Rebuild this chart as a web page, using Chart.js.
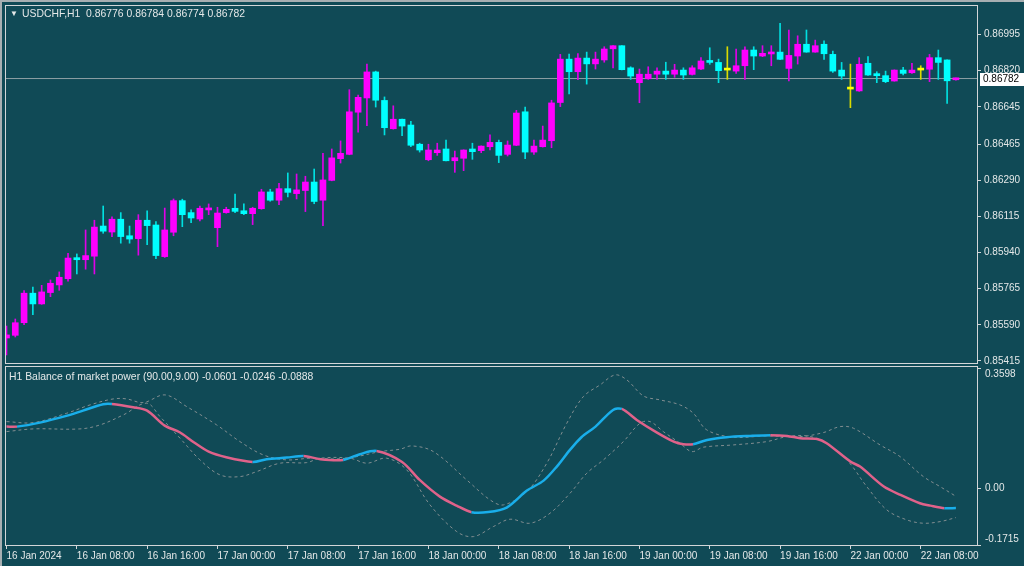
<!DOCTYPE html>
<html lang="en">
<head>
  <meta charset="UTF-8">
  <title>USDCHF,H1</title>
  <script src="https://cdn.jsdelivr.net/npm/chart.js"></script>
  <style>
    html, body {
      margin: 0;
      padding: 0;
      background-color: #104a56;
    }

    body {
      width: 1024px;
      height: 566px;
      position: relative;
      overflow: hidden;
    }

    #precos {
      position: absolute;
      left: 0;
      top: 0;
    }

    #bop {
      position: absolute;
      left: 0;
      top: 364px;
    }
  </style>
</head>
<body>
  <canvas id="precos" width="1024" height="366"></canvas>
  <canvas id="bop" width="1024" height="202"></canvas>

  <script>
    // velas H1, de 16 Jan 00:00 a 22 Jan 12:00
    const abertura = [
      0.85526, 0.85539, 0.85600, 0.85743, 0.85691, 0.85746, 0.85783, 0.85813, 0.85915, 0.85905,
      0.85922, 0.86068, 0.86039, 0.86101, 0.86021, 0.86007, 0.86096, 0.86073, 0.85920, 0.86038,
      0.86191, 0.86133, 0.86102, 0.86146, 0.86060, 0.86133, 0.86154, 0.86142, 0.86128, 0.86152,
      0.86233, 0.86193, 0.86249, 0.86225, 0.86240, 0.86281, 0.86193, 0.86289, 0.86394, 0.86415,
      0.86619, 0.86688, 0.86814, 0.86676, 0.86539, 0.86585, 0.86557, 0.86464, 0.86389, 0.86423,
      0.86441, 0.86384, 0.86396, 0.86441, 0.86433, 0.86452, 0.86473, 0.86415, 0.86459, 0.86621,
      0.86426, 0.86452, 0.86481, 0.86666, 0.86876, 0.86815, 0.86881, 0.86853, 0.86872, 0.86926,
      0.86941, 0.86834, 0.86762, 0.86781, 0.86803, 0.86818, 0.86803, 0.86823, 0.86802, 0.86828,
      0.86867, 0.86860, 0.86823, 0.86818, 0.86844, 0.86920, 0.86891, 0.86901, 0.86910, 0.86831,
      0.86891, 0.86948, 0.86910, 0.86948, 0.86899, 0.86823, 0.86731, 0.86722, 0.86856, 0.86802,
      0.86796, 0.86770, 0.86823, 0.86810, 0.86823, 0.86827, 0.86883, 0.86872, 0.86776
    ];
    const maxima = [
      0.85584, 0.85618, 0.85755, 0.85772, 0.85781, 0.85807, 0.85846, 0.85936, 0.85933, 0.86049,
      0.86096, 0.86165, 0.86113, 0.86133, 0.86068, 0.86123, 0.86142, 0.86089, 0.86155, 0.86199,
      0.86198, 0.86146, 0.86165, 0.86175, 0.86159, 0.86159, 0.86223, 0.86175, 0.86159, 0.86246,
      0.86246, 0.86275, 0.86325, 0.86320, 0.86309, 0.86344, 0.86420, 0.86441, 0.86480, 0.86728,
      0.86702, 0.86852, 0.86818, 0.86693, 0.86650, 0.86586, 0.86575, 0.86469, 0.86464, 0.86469,
      0.86484, 0.86431, 0.86437, 0.86469, 0.86456, 0.86510, 0.86484, 0.86480, 0.86628, 0.86644,
      0.86484, 0.86552, 0.86677, 0.86899, 0.86901, 0.86903, 0.86910, 0.86910, 0.86936, 0.86942,
      0.86942, 0.86839, 0.86828, 0.86839, 0.86834, 0.86861, 0.86851, 0.86834, 0.86844, 0.86883,
      0.86931, 0.86876, 0.86936, 0.86925, 0.86936, 0.86936, 0.86941, 0.86941, 0.87049, 0.87017,
      0.86989, 0.87017, 0.86968, 0.86964, 0.86915, 0.86860, 0.86852, 0.86883, 0.86888, 0.86815,
      0.86818, 0.86824, 0.86836, 0.86856, 0.86844, 0.86899, 0.86920, 0.86873, 0.86784
    ];
    const minima = [
      0.85444, 0.85531, 0.85591, 0.85639, 0.85689, 0.85726, 0.85757, 0.85801, 0.85836, 0.85859,
      0.85836, 0.86033, 0.86017, 0.85985, 0.85985, 0.85927, 0.85978, 0.85910, 0.85916, 0.86021,
      0.86065, 0.86084, 0.86093, 0.86123, 0.85968, 0.86130, 0.86133, 0.86123, 0.86075, 0.86149,
      0.86188, 0.86171, 0.86209, 0.86199, 0.86138, 0.86176, 0.86070, 0.86287, 0.86373, 0.86413,
      0.86522, 0.86554, 0.86644, 0.86509, 0.86537, 0.86505, 0.86452, 0.86426, 0.86384, 0.86410,
      0.86383, 0.86328, 0.86336, 0.86391, 0.86423, 0.86436, 0.86375, 0.86407, 0.86457, 0.86394,
      0.86415, 0.86450, 0.86447, 0.86646, 0.86707, 0.86777, 0.86755, 0.86828, 0.86861, 0.86834,
      0.86824, 0.86778, 0.86665, 0.86778, 0.86778, 0.86778, 0.86788, 0.86778, 0.86799, 0.86825,
      0.86851, 0.86762, 0.86778, 0.86807, 0.86778, 0.86825, 0.86888, 0.86844, 0.86873, 0.86771,
      0.86852, 0.86909, 0.86909, 0.86875, 0.86812, 0.86778, 0.86641, 0.86720, 0.86797, 0.86762,
      0.86762, 0.86769, 0.86799, 0.86807, 0.86778, 0.86767, 0.86778, 0.86662, 0.86774
    ];
    const fechamento = [
      0.85541, 0.85600, 0.85743, 0.85691, 0.85749, 0.85791, 0.85820, 0.85913, 0.85905, 0.85925,
      0.86063, 0.86043, 0.86101, 0.86017, 0.86005, 0.86096, 0.86070, 0.85925, 0.86049, 0.86191,
      0.86123, 0.86107, 0.86154, 0.86155, 0.86131, 0.86149, 0.86139, 0.86128, 0.86154, 0.86233,
      0.86193, 0.86249, 0.86231, 0.86243, 0.86281, 0.86187, 0.86291, 0.86398, 0.86420, 0.86621,
      0.86691, 0.86814, 0.86677, 0.86544, 0.86585, 0.86552, 0.86459, 0.86436, 0.86436, 0.86436,
      0.86384, 0.86399, 0.86436, 0.86428, 0.86455, 0.86473, 0.86410, 0.86460, 0.86615, 0.86426,
      0.86455, 0.86484, 0.86664, 0.86876, 0.86815, 0.86881, 0.86853, 0.86876, 0.86925, 0.86941,
      0.86825, 0.86794, 0.86803, 0.86803, 0.86818, 0.86803, 0.86823, 0.86799, 0.86834, 0.86867,
      0.86860, 0.86820, 0.86823, 0.86844, 0.86920, 0.86891, 0.86904, 0.86910, 0.86875, 0.86894,
      0.86948, 0.86910, 0.86941, 0.86902, 0.86818, 0.86794, 0.86731, 0.86851, 0.86799, 0.86796,
      0.86767, 0.86823, 0.86807, 0.86823, 0.86823, 0.86883, 0.86860, 0.86771, 0.86782
    ];

    const ticksPreco = [0.86995, 0.86820, 0.86645, 0.86465, 0.86290, 0.86115, 0.85940, 0.85765, 0.85590, 0.85415];

    const ticksTempo = [0, 8, 16, 24, 32, 40, 48, 56, 64, 72, 80, 88, 96, 104];
    const rotulosTempo = [
      "16 Jan 2024", "16 Jan 08:00", "16 Jan 16:00", "17 Jan 00:00", "17 Jan 08:00",
      "17 Jan 16:00", "18 Jan 00:00", "18 Jan 08:00", "18 Jan 16:00", "19 Jan 00:00",
      "19 Jan 08:00", "19 Jan 16:00", "22 Jan 00:00", "22 Jan 08:00"
    ];

    // Balance of market power: linha principal e bandas (posição em barras)
    const bopBarras = [
      0, 1.2, 3.8, 6.8, 8.7, 11, 12, 14.4, 16, 18, 19.7, 21.3, 23, 25, 28, 29.6, 31.9, 33.8, 35.7,
      38.3, 40.2, 42.1, 45, 47, 49.3, 51.2, 52.9, 54.8, 56.9, 59.2, 61.1, 62.6, 64.1, 65.4, 67, 69,
      70, 71.7, 74, 75.9, 77, 78.1, 79.7, 81.9, 84.6, 86.9, 88.8, 90.3, 92.2, 93.3, 96, 97.1, 99.8,
      101.7, 103.9, 105.1, 106.7, 108
    ];
    const bopValores = [
      0.1857, 0.1857, 0.1978, 0.2180, 0.2340, 0.2533, 0.2540, 0.2442, 0.2340, 0.1887, 0.1688,
      0.1387, 0.1103, 0.0934, 0.0792, 0.0874, 0.0922, 0.0973, 0.0874, 0.0853, 0.1025, 0.1124,
      0.0792, 0.0249, -0.0255, -0.0526, -0.0725, -0.0722, -0.0586, -0.0073, 0.0228, 0.0651,
      0.1154, 0.1537, 0.1857, 0.2361, 0.2391, 0.2059, 0.1676, 0.1405, 0.1326, 0.1326, 0.1456,
      0.1537, 0.1577, 0.1598, 0.1577, 0.1507, 0.1486, 0.1356, 0.0801, 0.0650, 0.0049, -0.0203,
      -0.0454, -0.0527, -0.0605, -0.0601
    ];
    const superiorBarras = [
      0, 3.05, 6.85, 9.5, 12.15, 13.67, 15.56, 18.03, 20.5, 23.91, 26.56, 29.21, 31.88, 34.53,
      37.57, 39.84, 42.49, 44.77, 46.1, 48.56, 52.35, 55.01, 56.53, 59.18, 61.46, 63.74, 65.62,
      67.52, 69.23, 70.57, 72.45, 74.35, 76.62, 78.13, 79.66, 82.69, 86.49, 90.27, 92.92, 94.82,
      96.34, 99.37, 101.65, 104.3, 106.2, 108
    ];
    const superiorValores = [
      0.2008, 0.1978, 0.2261, 0.2512, 0.2693, 0.2693, 0.2581, 0.2814, 0.2461, 0.1908, 0.1405,
      0.1003, 0.0853, 0.0904, 0.0883, 0.0952, 0.1103, 0.1175, 0.1275, 0.1103, 0.0249, -0.0354,
      -0.0505, -0.0104, 0.0753, 0.1960, 0.2762, 0.3115, 0.3417, 0.3266, 0.2783, 0.2663, 0.2512,
      0.2261, 0.1758, 0.1537, 0.1577, 0.1555, 0.1676, 0.1857, 0.1809, 0.1305, 0.0952, 0.0349,
      0.0047, -0.0246
    ];
    const inferiorBarras = [
      0, 3.05, 8.36, 10.64, 13.29, 15.95, 17.46, 19.74, 22.01, 24.29, 26.56, 28.46, 31.11, 34.15,
      35.67, 39.08, 40.98, 43.25, 45.53, 48.18, 51.22, 53.11, 55.38, 57.28, 59.56, 61.83, 64.11,
      66.01, 67.9, 70.17, 72.07, 73.21, 74.72, 76.62, 77.95, 79.27, 82.69, 86.49, 88.76, 91.03,
      92.92, 95.59, 97.86, 100.14, 102.42, 104.3, 106.2, 108
    ];
    const inferiorValores = [
      0.1706, 0.1788, 0.1788, 0.1908, 0.2210, 0.2563, 0.2159, 0.1507, 0.0853, 0.0400, 0.0349,
      0.0500, 0.0753, 0.0771, 0.0904, 0.0904, 0.0753, 0.0904, 0.0551, -0.0505, -0.1311, -0.1462,
      -0.1160, -0.0937, -0.1058, -0.0756, -0.0153, 0.0451, 0.0853, 0.1405, 0.1960, 0.2008,
      0.1706, 0.1356, 0.1103, 0.1236, 0.1305, 0.1405, 0.1555, 0.1577, 0.1405, 0.0853, 0.0047,
      -0.0656, -0.0958, -0.1058, -0.1009, -0.0888
    ];
    const ticksBop = [0.3598, 0, -0.1715];
    const rotulosBop = ["0.3598", "0.00", "-0.1715"];

    const xMin = -0.17, xMax = 110.4;
    const fonte = '"Liberation Sans", Arial, sans-serif';
    const corTexto = '#e4e8e8';
    const corBorda = '#d2d6d8';
    const azul = '#19aeea';
    const rosa = '#e0628a';

    Chart.defaults.font.family = fonte;
    Chart.defaults.font.size = 10;
    Chart.defaults.color = corTexto;

    const barras = abertura.map((_, i) => i);
    const ultimo = fechamento[fechamento.length - 1];

    function corCorpo(i) {
      if (fechamento[i] > abertura[i]) return '#ff00ff';
      if (fechamento[i] < abertura[i]) return '#00ffff';
      return '#ffff00';
    }
    function corPavio(i) {
      if (fechamento[i] > abertura[i]) return '#e000e8';
      if (fechamento[i] < abertura[i]) return '#00e0e0';
      return '#dada00';
    }
    const pares = (xs, ys) => xs.map((x, i) => ({ x, y: ys[i] }));

    // sem folga extra para os rotulos nas pontas do eixo
    function eixoDireito(s) {
      s.width = 47;
      s.paddingTop = 0;
      s.paddingBottom = 0;
    }

    // moldura do painel, titulo e etiqueta do preço atual
    const moldura = {
      id: 'moldura',
      afterDraw(chart, args, opts) {
        const { ctx, chartArea: a } = chart;
        ctx.save();
        ctx.fillStyle = '#a7afb2';
        if (opts.topo) ctx.fillRect(0, 0, chart.width, 2);
        ctx.fillRect(0, 0, 2, chart.height);
        ctx.strokeStyle = corBorda;
        ctx.lineWidth = 1;
        ctx.strokeRect(a.left + 0.5, a.top + 0.5, a.right - a.left, a.bottom - a.top);

        ctx.fillStyle = corTexto;
        ctx.textBaseline = 'middle';
        if (opts.seta) {
          ctx.font = '8px ' + fonte;
          ctx.fillText('\u25BC', opts.tx - 12, opts.ty);
        }
        ctx.font = '10.4px ' + fonte;
        ctx.fillText(opts.titulo, opts.tx, opts.ty);

        // rotulos do eixo do indicador, mantidos dentro do painel como no MT5
        if (opts.rotulos) {
          ctx.font = '10px ' + fonte;
          const s = chart.scales.y;
          opts.rotulos.valores.forEach((v, i) => {
            let y = s.getPixelForValue(v);
            y = Math.min(Math.max(y, a.top + 8), a.bottom - 6);
            ctx.fillText(opts.rotulos.textos[i], a.right + 8, y);
          });
        }

        if (opts.preco !== undefined) {
          const y = chart.scales.y.getPixelForValue(opts.preco);
          ctx.fillStyle = '#ffffff';
          ctx.fillRect(a.right + 3, Math.round(y) - 6, chart.width - a.right - 3, 13);
          ctx.fillStyle = '#000000';
          ctx.font = '10px ' + fonte;
          ctx.fillText(opts.preco.toFixed(5), a.right + 6, y + 0.5);
        }
        ctx.restore();
      }
    };

    new Chart(document.getElementById('precos'), {
      type: 'bar',
      data: {
        datasets: [
          {
            type: 'line',
            data: [{ x: xMin, y: ultimo }, { x: xMax, y: ultimo }],
            borderColor: '#8fa0a5',
            borderWidth: 1,
            pointRadius: 0,
            order: 3
          },
          {
            data: barras.map(i => ({ x: i, y: [minima[i], maxima[i]] })),
            backgroundColor: barras.map(corPavio),
            barThickness: 1,
            grouped: false,
            order: 2
          },
          {
            data: barras.map(i => ({ x: i, y: [abertura[i], fechamento[i]] })),
            backgroundColor: barras.map(corCorpo),
            barThickness: 6,
            minBarLength: 2,
            grouped: false,
            order: 1
          }
        ]
      },
      options: {
        responsive: false,
        animation: false,
        devicePixelRatio: 1,
        layout: { padding: { left: 5, top: 5, right: 0, bottom: 3 } },
        plugins: {
          legend: { display: false },
          tooltip: { enabled: false },
          moldura: {
            topo: true,
            seta: true,
            titulo: 'USDCHF,H1  0.86776 0.86784 0.86774 0.86782',
            tx: 22,
            ty: 14,
            preco: ultimo
          }
        },
        scales: {
          x: { type: 'linear', min: xMin, max: xMax, offset: false, display: false },
          y: {
            position: 'right',
            min: 0.85405,
            max: 0.87138,
            afterFit: eixoDireito,
            afterBuildTicks: (s) => { s.ticks = ticksPreco.map(v => ({ value: v })); },
            ticks: {
              padding: 3,
              autoSkip: false,
              callback: (v) => Number(v).toFixed(5)
            },
            grid: { drawOnChartArea: false, drawTicks: true, tickLength: 4, color: corBorda },
            border: { display: true, color: corBorda }
          }
        }
      },
      plugins: [moldura]
    });

    new Chart(document.getElementById('bop'), {
      type: 'line',
      data: {
        datasets: [
          {
            data: pares(bopBarras, bopValores),
            borderColor: rosa,
            borderWidth: 2.5,
            pointRadius: 0,
            tension: 0.3,
            segment: {
              borderColor: (c) => c.p1.parsed.y > c.p0.parsed.y ? azul : rosa
            },
            order: 0
          },
          {
            data: pares(superiorBarras, superiorValores),
            borderColor: '#828e91',
            borderWidth: 1,
            borderDash: [3, 3],
            pointRadius: 0,
            tension: 0.35,
            order: 1
          },
          {
            data: pares(inferiorBarras, inferiorValores),
            borderColor: '#828e91',
            borderWidth: 1,
            borderDash: [3, 3],
            pointRadius: 0,
            tension: 0.35,
            order: 1
          }
        ]
      },
      options: {
        responsive: false,
        animation: false,
        devicePixelRatio: 1,
        layout: { padding: { left: 5, top: 2, right: 0, bottom: 0 } },
        plugins: {
          legend: { display: false },
          tooltip: { enabled: false },
          moldura: {
            titulo: 'H1 Balance of market power (90.00,9.00) -0.0601 -0.0246 -0.0888',
            tx: 9,
            ty: 13,
            rotulos: { valores: ticksBop, textos: rotulosBop }
          }
        },
        scales: {
          x: {
            type: 'linear',
            min: xMin,
            max: xMax,
            offset: false,
            afterFit: (s) => {
              s.height = 21;
              s.paddingLeft = 0;
              s.paddingRight = 0;
            },
            afterBuildTicks: (s) => { s.ticks = ticksTempo.map(v => ({ value: v })); },
            ticks: {
              align: 'start',
              padding: 1,
              autoSkip: false,
              maxRotation: 0,
              callback: (v, i) => rotulosTempo[i]
            },
            grid: { drawOnChartArea: false, drawTicks: true, tickLength: 4, color: corBorda },
            border: { display: true, color: corBorda }
          },
          y: {
            position: 'right',
            min: -0.1715,
            max: 0.3686,
            afterFit: eixoDireito,
            afterBuildTicks: (s) => { s.ticks = ticksBop.map(v => ({ value: v })); },
            ticks: { display: false },
            grid: { drawOnChartArea: false, drawTicks: true, tickLength: 4, color: corBorda },
            border: { display: true, color: corBorda }
          }
        }
      },
      plugins: [moldura]
    });
  </script>
</body>
</html>
